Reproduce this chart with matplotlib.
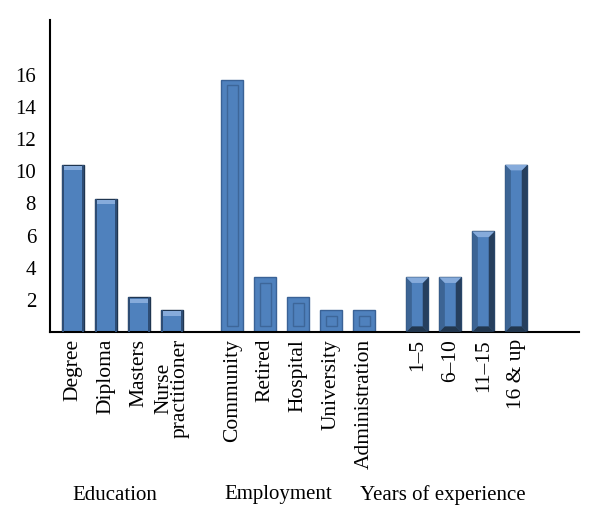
import numpy as np
import matplotlib
matplotlib.use("Agg")
import matplotlib.pyplot as plt
from matplotlib.patches import Polygon, Rectangle

plt.rcParams['font.family'] = ['Liberation Serif', 'DejaVu Serif']

# data
education = ["Degree", "Diploma", "Masters", "Nurse\npractitioner"]
education_vals = [10.4, 8.3, 2.15, 1.35]
employment = ["Community", "Retired", "Hospital", "University", "Administration"]
employment_vals = [15.7, 3.4, 2.15, 1.35, 1.35]
years = ["1\u20135", "6\u201310", "11\u201315", "16 & up"]
years_vals = [3.4, 3.4, 6.25, 10.4]
group_names = ["Education", "Employment", "Years of experience"]

groups = [(education, education_vals), (employment, employment_vals), (years, years_vals)]
group_starts = [0, 4.82, 10.43]

blue = "#4F81BD"
dark = "#263F5E"
light = "#86ABDB"
w = 0.67
bx = 0.17   # bevel in x (data units)
by = 0.35   # bevel in y

fig = plt.figure(figsize=(6, 5.26), dpi=100)
ax = fig.add_axes([50 / 600, 194 / 526, 529 / 600, 312 / 526])

labels, xs = [], []
for gi, (cats, vals) in enumerate(groups):
    x = group_starts[gi] + np.arange(len(cats))
    bars = ax.bar(x, vals, width=w, color=blue, zorder=2,
                  edgecolor=["#1F3550", "#3A6296", "#2B4A70"][gi], linewidth=1.0)
    for b in bars:
        x0, x1 = b.get_x(), b.get_x() + b.get_width()
        h = b.get_height()
        if gi == 0:
            # rounded highlight at the top
            ax.add_patch(Rectangle((x0 + 0.05, h - by * 0.95), x1 - x0 - 0.1, by * 0.75,
                                   color=light, zorder=3, lw=0))
            ax.add_patch(Rectangle((x0, 0), 0.07, h, color="#2E4D75", zorder=3, lw=0))
            ax.add_patch(Rectangle((x1 - 0.07, 0), 0.07, h, color="#2E4D75", zorder=3, lw=0))
        elif gi == 1:
            ax.add_patch(Rectangle((x0 + bx, by), x1 - x0 - 2 * bx, h - 2 * by, fill=False,
                                   ec="#3D6699", lw=1.0, zorder=3))
        else:
            ax.add_patch(Polygon([(x1, 0), (x1, h), (x1 - bx, h - by), (x1 - bx, by)],
                                 color=dark, zorder=3, lw=0))
            ax.add_patch(Polygon([(x0, 0), (x0, h), (x0 + bx, h - by), (x0 + bx, by)],
                                 color="#3C6494", zorder=3, lw=0))
            ax.add_patch(Polygon([(x0, h), (x1, h), (x1 - bx, h - by), (x0 + bx, h - by)],
                                 color=light, zorder=3, lw=0))
            ax.add_patch(Polygon([(x0, 0), (x1, 0), (x1 - bx, by), (x0 + bx, by)],
                                 color="#22374F", zorder=3, lw=0))
    labels += cats
    xs += list(x)

ax.set_xlim(-0.7, 15.33)
ax.set_ylim(0, 19.4)
ax.set_yticks([2, 4, 6, 8, 10, 12, 14, 16])
ax.tick_params(axis='y', length=0, labelsize=15, pad=10)
ax.set_xticks(xs)
ax.set_xticklabels(labels, rotation=90, fontsize=15.5, va='top', linespacing=0.85)
ax.tick_params(axis='x', length=0, pad=5)
for s in ["top", "right"]:
    ax.spines[s].set_visible(False)
ax.spines["left"].set_linewidth(1.5)
ax.spines["bottom"].set_linewidth(1.5)

for name, xc in zip(group_names, [115, 278, 443]):
    fig.text(xc / 600, 1 - 495 / 526, name, fontsize=15, ha='center', va='center')

fig.savefig("out.png", dpi=100)
